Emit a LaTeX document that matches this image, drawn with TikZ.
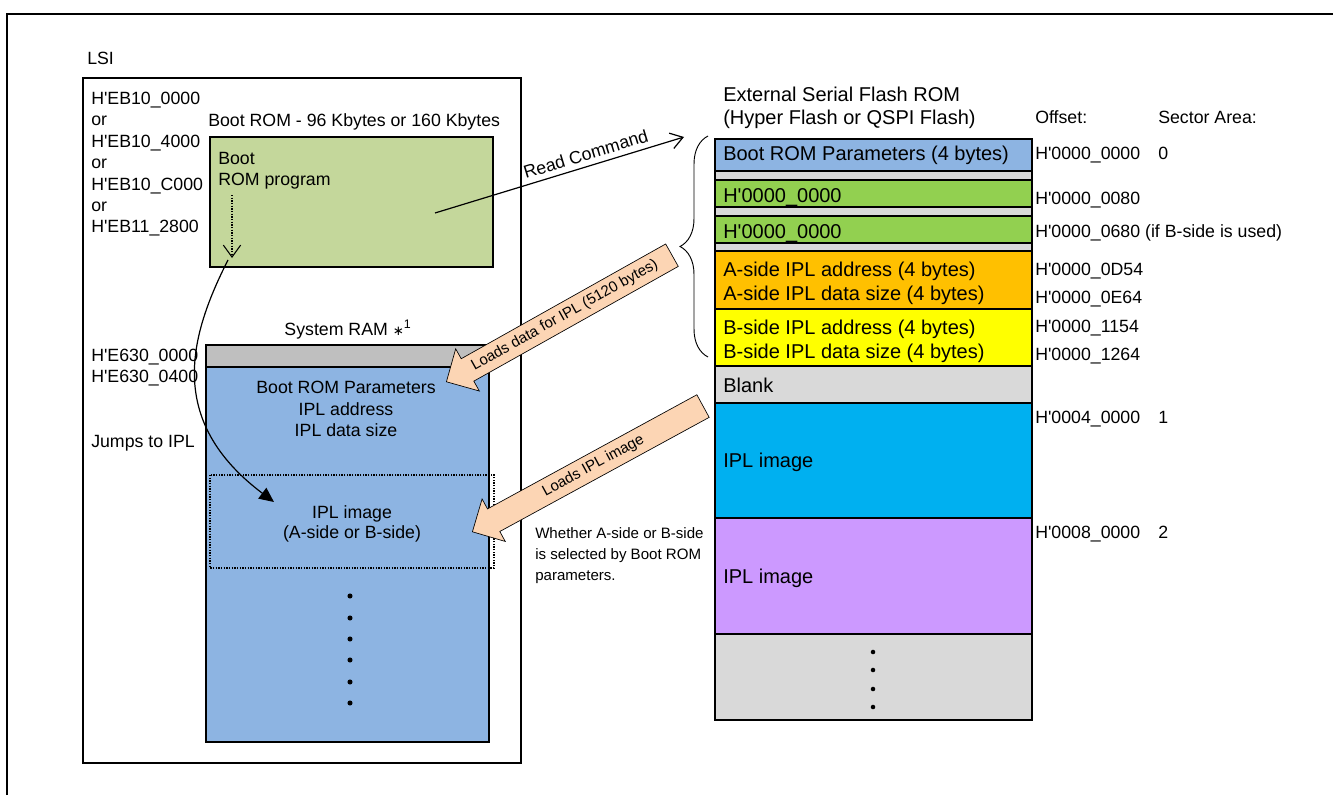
\documentclass[tikz,border=0pt]{standalone}
\usepackage{fontspec}
\setmainfont{Liberation Sans}[Ligatures=TeXOff]
\newfontfamily\symfont{DejaVu Sans}
\usetikzlibrary{arrows.meta,shapes.arrows,decorations.pathreplacing}

\newcommand{\fsL}{\fontsize{13.3pt}{16pt}\selectfont}
\newcommand{\fsF}{\fontsize{15pt}{18pt}\selectfont}
\newcommand{\fsS}{\fontsize{11.3pt}{14pt}\selectfont}

\definecolor{romgreen}{HTML}{C4D79B}
\definecolor{ramgray}{HTML}{BFBFBF}
\definecolor{paleblue}{HTML}{8DB4E2}
\definecolor{flgreen}{HTML}{92D050}
\definecolor{sepgray}{HTML}{D9D9D9}
\definecolor{amber}{HTML}{FFC000}
\definecolor{brightyel}{HTML}{FFFF00}
\definecolor{skycyan}{HTML}{00B0F0}
\definecolor{lilac}{HTML}{CC99FF}
\definecolor{peach}{HTML}{FCD5B4}

\begin{document}
\begin{tikzpicture}[x=0.75pt,y=-0.75pt,
    txt/.style={font=\fsL,inner sep=0,anchor=base west},
    ctxt/.style={font=\fsL,inner sep=0,anchor=base},
    ftxt/.style={font=\fsF,inner sep=0,anchor=base west},
    stxt/.style={font=\fsS,inner sep=0,anchor=base west},
    rowline/.style={draw=black,line width=1.1pt},
    conn/.style={line width=0.9pt},
    fatarrow/.style={single arrow,draw=black,line width=0.5pt,fill=peach,
      shape border rotate=180,single arrow head extend=8.5pt,
      text height=8.5pt,text depth=2.5pt,inner xsep=0pt,inner ysep=3.9pt,
      font=\fsS,anchor=tip}]
    \useasboundingbox (0,0) rectangle (1333,795);
    %--- outer frame ---
    \draw[line width=1.4pt] (7,795) -- (7,14) -- (1333,14);

    %--- LSI ---
    \node[txt] (lsi) at (87,65) {LSI};
    \draw[line width=1.2pt] (83,78) rectangle (521,763);
    \foreach \t/\y [count=\i] in {H'EB10\_0000/105, or/126, H'EB10\_4000/147,
        or/168, H'EB10\_C000/190, or/211, H'EB11\_2800/232}
      \node[txt] (adr\i) at (91,\y) {\t};
    \node[txt] (ramadr1) at (91,361) {H'E630\_0000};
    \node[txt] (ramadr2) at (91,382) {H'E630\_0400};
    \node[txt] (jmplbl) at (91,447) {Jumps to IPL};

    %--- Boot ROM ---
    \node[txt] (romlbl) at (208,127) {Boot ROM - 96 Kbytes or 160 Kbytes};
    \draw[line width=1pt,fill=romgreen] (210,137) rectangle (493,267);
    \node[txt] (pgm1) at (218,164) {Boot};
    \node[txt] (pgm2) at (218,185) {ROM program};
    \coordinate (pgmtop) at (232,195);
    \coordinate (pgmbot) at (232,258);
    \draw[dash pattern=on 1pt off 1pt,line width=0.8pt,
      -{Straight Barb[length=9pt,width=13pt]}] (pgmtop) -- (pgmbot);

    %--- System RAM ---
    \node[ctxt] (ramlbl) at (348,335)
      {System RAM {\symfont\fontsize{10pt}{12pt}\selectfont ∗}\textsuperscript{1}};
    \draw[line width=1.1pt,fill=paleblue] (206,345) rectangle (489,742);
    \draw[line width=1.1pt,fill=ramgray] (206,345) rectangle (489,367);
    \node[ctxt] (ram1) at (346,393) {Boot ROM Parameters};
    \node[ctxt] (ram2) at (346,415) {IPL address};
    \node[ctxt] (ram3) at (346,436) {IPL data size};
    \draw[dash pattern=on 1pt off 1pt,line width=0.9pt] (210,475) rectangle (494,568);
    \node[ctxt] (ramimg1) at (352,518) {IPL image};
    \node[ctxt] (ramimg2) at (352,538) {(A-side or B-side)};
    \foreach \y in {596,618,639,660,682,703}
      \fill (350,\y) circle (1.9pt);

    %--- jumps to IPL ---
    \coordinate (jmpsrc) at (228,260);
    \coordinate (jmptip) at (274,502);
    \draw[conn,-{Triangle[length=11pt,width=10pt]}]
      (jmpsrc) .. controls (190,335) and (165,420) .. (jmptip);

    %--- external flash ---
    \node[ftxt] (fltitle1) at (723,102) {External Serial Flash ROM};
    \node[ftxt] (fltitle2) at (723,125) {(Hyper Flash or QSPI Flash)};
    \node[txt] (offhead) at (1035,124) {Offset:};
    \node[txt] (sechead) at (1158,124) {Sector Area:};
    \fill[sepgray] (715,139) rectangle (1032,720);
    \draw[rowline] (715,139) rectangle (1032,720);
    \draw[rowline,fill=paleblue] (715,139) rectangle (1032,171);
    \draw[rowline,fill=flgreen] (715,180) rectangle (1032,207);
    \draw[rowline,fill=flgreen] (715,216) rectangle (1032,243);
    \draw[rowline,fill=amber] (715,251) rectangle (1032,309);
    \draw[rowline,fill=brightyel] (715,309) rectangle (1032,366);
    \draw[rowline,fill=sepgray] (715,366) rectangle (1032,403);
    \draw[rowline,fill=skycyan] (715,403) rectangle (1032,518);
    \draw[rowline,fill=lilac] (715,518) rectangle (1032,634);
    \foreach \y in {652,670,689,707}
      \fill (873,\y) circle (1.7pt);
    \foreach \t/\y [count=\i] in {Boot ROM Parameters (4 bytes)/161,
        H'0000\_0000/202, H'0000\_0000/238,
        A-side IPL address (4 bytes)/276, A-side IPL data size (4 bytes)/300,
        B-side IPL address (4 bytes)/334, B-side IPL data size (4 bytes)/358,
        Blank/392, IPL image/467, IPL image/583}
      \node[ftxt] (cell\i) at (723,\y) {\t};
    \foreach \t/\y [count=\i] in {0000\_0000/160, 0000\_0080/204,
        0000\_0680 (if B-side is used)/237, 0000\_0D54/275, 0000\_0E64/303,
        0000\_1154/332, 0000\_1264/360, 0004\_0000/423, 0008\_0000/538}
      \node[txt] (off\i) at (1035,\y) {H'\t};
    \node[txt] (sec0) at (1158,160) {0};
    \node[txt] (sec1) at (1158,423) {1};
    \node[txt] (sec2) at (1158,538) {2};
    \draw[decorate,decoration={brace,amplitude=21pt},line width=0.7pt]
      (708,357) -- (708,136);

    %--- read command ---
    \coordinate (rdsrc) at (435,213);
    \coordinate (rdtip) at (684,137);
    \draw[conn,-{Straight Barb[length=9pt,width=12pt]}] (rdsrc) --
      node[sloped,above=4pt,pos=0.62,font=\fsL,inner sep=0pt] (rdlbl) {Read Command} (rdtip);

    %--- loads ---
    \node[fatarrow,rotate=29.3,minimum height=194pt] (ldparam) at (446,382)
      {Loads data for IPL (5120 bytes)};
    \node[fatarrow,rotate=28.6,minimum height=197pt] (ldimage) at (472,532)
      {Loads IPL image};
    \node[stxt] (note1) at (535,538) {Whether A-side or B-side};
    \node[stxt] (note2) at (535,559) {is selected by Boot ROM};
    \node[stxt] (note3) at (535,580) {parameters.};
  \end{tikzpicture}
\end{document}
